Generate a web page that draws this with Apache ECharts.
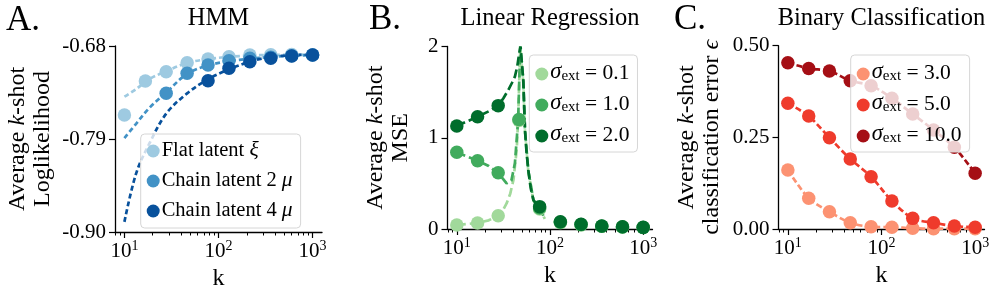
<!DOCTYPE html>
<html><head><meta charset="utf-8">
<script src="https://cdn.jsdelivr.net/npm/echarts@6/dist/echarts.min.js"></script>
<style>html,body{margin:0;padding:0;background:#fff}#c{width:997px;height:295px}</style>
</head><body><div id="c"></div>
<script>
// ---------- data ----------
const kValues = [10, 16.7, 27.8, 46.4, 77.4, 129.2, 215.4, 359.4, 599.5, 1000];
const xTickValues = [10, 100, 1000];
const xTickExps = ['1', '2', '3'];
const xMinorTicks = [8, 9, 20, 30, 40, 50, 60, 70, 80, 90, 200, 300, 400, 500, 600, 700, 800, 900];

// Panel A: HMM
const hmmNames = ['Flat latent ξ', 'Chain latent 2 μ', 'Chain latent 4 μ'];
const hmmFlat   = [-0.7616, -0.7214, -0.7104, -0.6997, -0.6954, -0.6926, -0.6906, -0.6904, -0.6902, -0.6903];
const hmmChain2 = [null, null, -0.7360, -0.7123, -0.7025, -0.6974, -0.6945, -0.6934, -0.6915, -0.6906];
const hmmChain4 = [null, null, null, null, -0.7210, -0.7064, -0.6986, -0.6945, -0.6918, -0.6906];
const fitKA      = [10, 13.3, 18.5, 27.8, 46.4, 77.4, 129.2, 215.4, 359.4, 599.5, 1000];
const fitFlat    = [-0.740, -0.731, -0.719, -0.710, -0.700, -0.6955, -0.6928, -0.6912, -0.6906, -0.6902, -0.6900];
const fitChain2  = [-0.789, -0.772, -0.753, -0.735, -0.713, -0.703, -0.698, -0.695, -0.693, -0.6915, -0.691];
const fitChain4  = [-0.888, -0.831, -0.795, -0.760, -0.736, -0.7194, -0.7076, -0.6986, -0.693, -0.691, -0.690];
const yTicksA = [-0.90, -0.79, -0.68];

// Panel B: Linear regression
const regNames = ['0.1', '1.0', '2.0'];
const mseS01 = [0.044, 0.066, 0.146, 1.19, 0.22, 0.07, 0.045, 0.03, 0.022, 0.016];
const mseS10 = [0.84, 0.749, 0.617, 1.20, 0.23, 0.075, 0.048, 0.031, 0.023, 0.017];
const mseS20 = [1.129, 1.231, 1.352, null, 0.245, 0.08, 0.051, 0.033, 0.025, 0.018];
const curveK01 = [10, 16.7, 22, 27.8, 31, 34.2, 37.5, 40.5, 43.9, 45.5, 47.9, 50, 51.7, 53.9, 58.5, 66.4, 77.4, 88];
const curveS01 = [0.044, 0.066, 0.095, 0.146, 0.2, 0.28, 0.39, 0.537, 0.866, 1.19, 2.0, 2.0, 1.6, 1.07, 0.63, 0.31, 0.22, 0.11];
const curveK10 = [10, 16.7, 22, 27.8, 31, 34.2, 38.5, 42, 45.5, 47.9, 50, 51.7, 53.9, 58.5, 66.4, 77.4, 88];
const curveS10 = [0.84, 0.749, 0.69, 0.61, 0.555, 0.50, 0.53, 0.72, 1.19, 2.0, 2.0, 1.62, 1.08, 0.64, 0.315, 0.23, 0.115];
const curveK20 = [10, 16.7, 22, 27.8, 31.5, 35.7, 39, 42, 44.5, 46.8, 48.3, 50, 51.7, 53.9, 56, 58.5, 62, 66.4, 72, 77.4, 88];
const curveS20 = [1.129, 1.231, 1.29, 1.352, 1.43, 1.524, 1.6, 1.67, 1.78, 1.93, 2.0, 2.0, 1.63, 1.086, 0.84, 0.647, 0.45, 0.318, 0.27, 0.22, 0.12];
const yTicksB = [0, 1, 2];

// Panel C: Binary classification
const clsNames = ['3.0', '5.0', '10.0'];
const errS3  = [0.161, 0.0837, 0.047, 0.017, 0.006, 0.005, 0.002, 0.001, 0.001, 0.001];
const errS5  = [0.343, 0.308, 0.249, 0.191, 0.1427, 0.0764, 0.029, 0.017, 0.008, 0.0046];
const errS10 = [0.4536, 0.438, 0.431, 0.4045, 0.391, 0.3565, 0.3137, 0.270, 0.2228, 0.152];
const yTicksC = [0, 0.25, 0.5];

// ---------- style ----------
const FONT = 'Liberation Serif';
const blues = ['#9ecae1', '#4292c6', '#08519c'];
const greens = ['#a1d99b', '#41ab5d', '#006d2c'];
const reds = ['#fc9272', '#ef3b2c', '#a50f15'];
const TICK_FS = 21, NAME_FS = 24, TITLE_FS = 24.5, LEG_FS = 20.5, SIG_FS = 21.5;

const pairs = (xs, ys) => xs.map((x, i) => [x, ys[i]]);

const grids = [
  { left: 115, top: 46, width: 207, height: 186 },
  { left: 447.5, top: 46.5, width: 205, height: 182.5 },
  { left: 778.5, top: 45.7, width: 206, height: 183.3 }
].map(g => Object.assign({ outerBoundsMode: 'none', containLabel: false }, g));

const XMIN = 7.943, XMAX = 1258.9;
const xAxes = [];
for (let g = 0; g < 3; g++) {
  xAxes.push({
    type: 'log', logBase: 10, gridIndex: g, position: 'bottom', min: XMIN, max: XMAX,
    name: 'k', nameLocation: 'middle', nameGap: 35,
    nameTextStyle: { fontFamily: FONT, fontSize: NAME_FS, color: '#000' },
    axisLine: { show: true, onZero: false, lineStyle: { color: '#000', width: 1.3 } },
    axisTick: { show: true, inside: false, length: 6, customValues: xTickValues, lineStyle: { color: '#000', width: 1.2 } },
    axisLabel: {
      show: true, customValues: xTickValues, margin: 7, color: '#000',
      formatter: v => '{b|10}{s|' + xTickExps[xTickValues.indexOf(v)] + '}',
      rich: {
        b: { fontFamily: FONT, fontSize: TICK_FS, lineHeight: 23, verticalAlign: 'bottom', color: '#000' },
        s: { fontFamily: FONT, fontSize: 14, lineHeight: 10, verticalAlign: 'top', color: '#000' }
      }
    },
    splitLine: { show: false }, minorTick: { show: false }
  });
  xAxes.push({
    type: 'log', logBase: 10, gridIndex: g, position: 'bottom', min: XMIN, max: XMAX,
    axisLine: { show: false },
    axisTick: { show: true, inside: false, length: 3.5, customValues: xMinorTicks, lineStyle: { color: '#000', width: 1 } },
    axisLabel: { show: false }, splitLine: { show: false }
  });
}

function yAxis(g, ticks, min, max, name, gap, fmt) {
  return {
    type: 'value', gridIndex: g, min: min, max: max,
    name: name, nameLocation: 'middle', nameRotate: 90, nameGap: gap,
    nameTextStyle: {
      fontFamily: FONT, fontSize: NAME_FS, lineHeight: 25, color: '#000', align: 'center',
      rich: { i: { fontFamily: FONT, fontSize: NAME_FS, fontStyle: 'italic', color: '#000' } }
    },
    axisLine: { show: true, onZero: false, lineStyle: { color: '#000', width: 1.3 } },
    axisTick: { show: true, inside: false, length: 6, customValues: ticks, lineStyle: { color: '#000', width: 1.2 } },
    axisLabel: { show: true, customValues: ticks, margin: 9, fontFamily: FONT, fontSize: TICK_FS, color: '#000', formatter: fmt },
    splitLine: { show: false }
  };
}
const yAxes = [
  yAxis(0, yTicksA, -0.90, -0.68, 'Average {i|k}-shot\nLoglikelihood', 60, v => v.toFixed(2)),
  yAxis(1, yTicksB, 0, 2, 'Average {i|k}-shot\nMSE', 34, v => String(Math.round(v))),
  yAxis(2, yTicksC, 0, 0.5, 'Average {i|k}-shot\nclassification error {i|ϵ}', 54, v => v.toFixed(2))
];

function fitLine(xi, yi, xs, ys, color, dash, z, smooth) {
  return { type: 'line', xAxisIndex: xi, yAxisIndex: yi, data: pairs(xs, ys), smooth: smooth, showSymbol: false, symbol: 'none',
    lineStyle: { color: color, width: 2.7, type: dash }, silent: true, z: z, animation: false, connectNulls: true, clip: true };
}
function points(xi, yi, name, ys, color, z) {
  return { type: 'scatter', name: name, xAxisIndex: xi, yAxisIndex: yi, data: pairs(kValues, ys).filter(p => p[1] !== null),
    symbol: 'circle', symbolSize: 13.5, itemStyle: { color: color, opacity: 1 }, z: z, animation: false };
}

const series = [
  fitLine(0, 0, fitKA, fitFlat, blues[0], [5, 3], 2, 0.35),
  fitLine(0, 0, fitKA, fitChain2, blues[1], [5, 3], 2, 0.35),
  fitLine(0, 0, fitKA, fitChain4, blues[2], [5, 3], 2, 0.35),
  points(0, 0, hmmNames[0], hmmFlat, blues[0], 3),
  points(0, 0, hmmNames[1], hmmChain2, blues[1], 3),
  points(0, 0, hmmNames[2], hmmChain4, blues[2], 3),

  fitLine(2, 1, curveK01, curveS01, greens[0], [9, 4], 2, false),
  fitLine(2, 1, curveK10, curveS10, greens[1], [9, 4], 2, false),
  fitLine(2, 1, curveK20, curveS20, greens[2], [9, 4], 2, false),
  points(2, 1, 'σ' + regNames[0], mseS01, greens[0], 3),
  points(2, 1, 'σ' + regNames[1], mseS10, greens[1], 3),
  points(2, 1, 'σ' + regNames[2], mseS20, greens[2], 3),

  fitLine(4, 2, kValues, errS3, reds[0], [6, 3], 2, 0.3),
  points(4, 2, 'σ' + clsNames[0], errS3, reds[0], 3),
  fitLine(4, 2, kValues, errS5, reds[1], [6, 3], 2, 0.3),
  points(4, 2, 'σ' + clsNames[1], errS5, reds[1], 3),
  fitLine(4, 2, kValues, errS10, reds[2], [6, 3], 2, 0.3),
  points(4, 2, 'σ' + clsNames[2], errS10, reds[2], 3)
];

const legRich = {
  i: { fontFamily: FONT, fontSize: LEG_FS + 1, fontStyle: 'italic', color: '#000', lineHeight: 20, verticalAlign: 'bottom' },
  r: { fontFamily: FONT, fontSize: LEG_FS, color: '#000', lineHeight: 20, verticalAlign: 'bottom' },
  si: { fontFamily: FONT, fontSize: SIG_FS + 1, fontStyle: 'italic', color: '#000', lineHeight: 20, verticalAlign: 'bottom' },
  sr: { fontFamily: FONT, fontSize: SIG_FS, color: '#000', lineHeight: 20, verticalAlign: 'bottom' },
  sub: { fontFamily: FONT, fontSize: 15, color: '#000', lineHeight: 8, verticalAlign: 'bottom' }
};
function legend(names, left, top, padding, fmt) {
  return {
    data: names.map(n => ({ name: n, icon: 'circle' })), orient: 'vertical', left: left, top: top,
    itemWidth: 13, itemHeight: 13, itemGap: 8, padding: padding,
    backgroundColor: 'rgba(255,255,255,0.8)', borderColor: '#d6d6d6', borderWidth: 1, borderRadius: 4,
    selectedMode: false, formatter: fmt,
    textStyle: { fontFamily: FONT, fontSize: LEG_FS, color: '#000', lineHeight: 20, padding: [0, 0, 0, -3], rich: legRich },
    z: 10
  };
}
const sigmaFmt = n => '{si|σ}{sub|ext}{sr| = ' + n.slice(1) + '}';
const legends = [
  legend(hmmNames, 140.7, 134, [5, 8, 7, 6], n => '{r|' + n.slice(0, -1) + '}{i|' + n.slice(-1) + '}'),
  legend(regNames.map(n => 'σ' + n), 529.3, 55, [6, 8, 6, 6], sigmaFmt),
  legend(clsNames.map(n => 'σ' + n), 850.7, 55, [6, 8, 6, 6], sigmaFmt)
];

const tstyle = (fs) => ({ fontFamily: FONT, fontSize: fs, fontWeight: 'normal', color: '#000' });
const titles = [
  { text: 'A.', left: 6, top: 3, textStyle: tstyle(35), padding: 0 },
  { text: 'B.', left: 369, top: 2, textStyle: tstyle(35), padding: 0 },
  { text: 'C.', left: 674, top: 2, textStyle: tstyle(35), padding: 0 },
  { text: 'HMM', left: 218.5, textAlign: 'center', top: 6, textStyle: tstyle(TITLE_FS), padding: 0 },
  { text: 'Linear Regression', left: 550, textAlign: 'center', top: 6, textStyle: tstyle(TITLE_FS), padding: 0 },
  { text: 'Binary Classification', left: 881.4, textAlign: 'center', top: 6, textStyle: tstyle(TITLE_FS), padding: 0 }
];

const chart = echarts.init(document.getElementById('c'), null, { renderer: 'canvas' });
chart.setOption({
  animation: false, backgroundColor: '#fff',
  title: titles, grid: grids, xAxis: xAxes, yAxis: yAxes, legend: legends, series: series,
  tooltip: { show: false }
});
</script></body></html>
